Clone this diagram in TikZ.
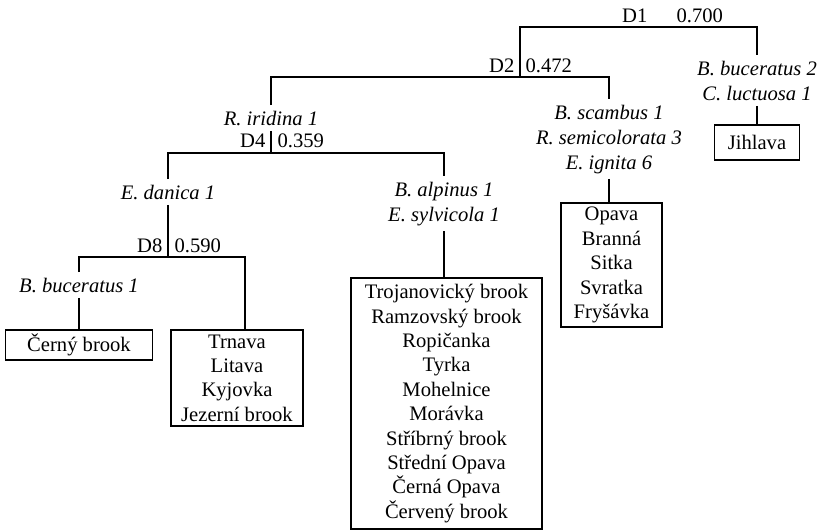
\documentclass[tikz,border=0pt]{standalone}
\usepackage{fontspec}
\setmainfont{Liberation Serif}
\begin{document}
\begin{tikzpicture}[x=0.5pt,y=-0.5pt,line width=0.6pt,
font=\fontsize{10.3}{12.2}\selectfont,
taxon/.style={font=\fontsize{10.3}{12.5}\selectfont\itshape,
align=center,inner sep=2.5pt,anchor=base},
site/.style={draw,align=center,inner sep=0pt},
dist/.style={inner sep=0pt}]
\useasboundingbox (0,0) rectangle (824,530);
% split points
\coordinate (s1) at (662,27);
\coordinate (s2) at (520,77);
\coordinate (s4) at (271,153);
\coordinate (s8) at (168,257);
\coordinate (s8r) at (245,257);
% split labels
\node[dist,anchor=base east] (d1) at ([xshift=-7pt,yshift=2.5pt]s1) {D1};
\node[dist,anchor=base west] (v1) at ([xshift=7pt,yshift=2.5pt]s1) {0.700};
\node[dist,anchor=base east] (d2) at ([xshift=-2.5pt,yshift=2.5pt]s2) {D2};
\node[dist,anchor=base west] (v2) at ([xshift=2.5pt,yshift=2.5pt]s2) {0.472};
\node[dist,anchor=base east] (d4) at ([xshift=-2.5pt,yshift=3pt]s4) {D4};
\node[dist,anchor=base west] (v4) at ([xshift=3pt,yshift=3pt]s4) {0.359};
\node[dist,anchor=base east] (d8) at ([xshift=-2.5pt,yshift=2.5pt]s8) {D8};
\node[dist,anchor=base west] (v8) at ([xshift=3pt,yshift=2.5pt]s8) {0.590};
% taxa (base = last line)
\node[taxon] (bbuc2) at (757,100) {B. buceratus 2\\C. luctuosa 1};
\node[taxon] (bscam) at (609,169) {B. scambus 1\\R. semicolorata 3\\E. ignita 6};
\node[taxon] (riri) at (271,125) {R. iridina 1};
\node[taxon] (edan) at (168,199) {E. danica 1};
\node[taxon] (balp) at (444,221) {B. alpinus 1\\E. sylvicola 1};
\node[taxon] (bbuc1) at (79,292) {B. buceratus 1};
% sites
\node[site,minimum width=42.5pt,minimum height=17.5pt] (jihlava) at (757,142.5) {Jihlava};
\node[site,minimum width=50.5pt,minimum height=62pt] (opava) at (611.5,265)
{Opava\\Branná\\Sitka\\Svratka\\Fryšávka};
\node[site,minimum width=95.5pt,minimum height=125.5pt] (alpbox) at (446.5,403.5)
{Trojanovický brook\\Ramzovský brook\\Ropičanka\\Tyrka\\Mohelnice\\Morávka\\Stříbrný brook\\Střední Opava\\Černá Opava\\Červený brook};
\node[site,minimum width=66pt,minimum height=48pt] (trnava) at (237,378)
{Trnava\\Litava\\Kyjovka\\Jezerní brook};
\node[site,minimum width=73.5pt,minimum height=15pt] (cerny) at (79,345) {Černý brook};
% tree
\draw (s2) |- (s1) -| (bbuc2.north);
\draw (bbuc2.south) -- (jihlava.north);
\draw (riri.north) |- (s2) -| (bscam.north);
\draw (bscam.south) -- (bscam.south |- opava.north);
\draw (riri.south) -- (s4);
\draw (edan.north) |- (s4) -| (balp.north);
\draw (balp.south) -- (balp.south |- alpbox.north);
\draw (edan.south) -- (s8);
\draw (bbuc1.north) |- (s8) -- (s8r) -- (s8r |- trnava.north);
\draw (bbuc1.south) -- (cerny.north);
\end{tikzpicture}
\end{document}
